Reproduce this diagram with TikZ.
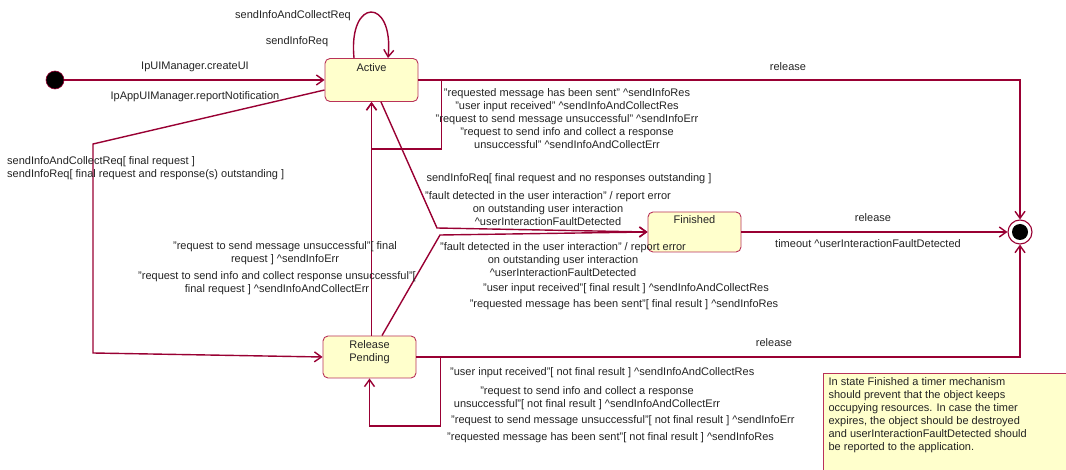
\documentclass[tikz,border=0pt]{standalone}
\usepackage{fontspec}
\setmainfont{Liberation Sans}
\usetikzlibrary{arrows.meta}
\definecolor{lc}{RGB}{153,0,51}
\definecolor{bc}{RGB}{185,50,90}
\definecolor{sf}{RGB}{255,255,204}
\definecolor{tc}{RGB}{35,35,35}
\begin{document}
\begin{tikzpicture}[x=1pt,y=-1pt,
  every node/.style={font=\fontsize{11}{13}\selectfont, text=tc},
  state/.style={draw=bc, fill=sf, rounded corners=5pt, minimum width=93pt, line width=0.9pt, inner sep=2pt},
  tr/.style={draw=lc, line width=1.4pt, -{Straight Barb[length=7pt,width=10pt]}},
  lbl/.style={inner sep=0pt, align=center},
  notebox/.style={draw=bc, fill=sf, line width=1.2pt, anchor=north west, align=left, inner xsep=5pt, inner ysep=4pt, text depth=50pt}
]
\useasboundingbox (0,0) rectangle (1066,470);

% states
\node[circle, fill=black, draw=lc, line width=0.6pt, minimum size=18pt, inner sep=0pt] (init) at (55,80) {};
\node[state, minimum height=43pt, text depth=24pt] (active) at (371.5,80) {Active};
\node[state, minimum height=40pt, text depth=24pt] (finished) at (694.5,232) {Finished};
\node[state, minimum height=42pt, align=center, text depth=11pt] (rp) at (369.5,357) {Release\\Pending};
\node[circle, draw=lc, fill=white, line width=1.1pt, minimum size=24pt, inner sep=0pt] (final) at (1020,232) {};
\fill[black] (final) circle (8pt);

% transitions
\draw[tr] (init) -- (active);
\draw[tr] ([xshift=-17.5pt]active.north) .. controls (348,-3) and (394,-3) .. ([xshift=16.5pt]active.north);
\draw[tr] (active.east) -| (final.north);
\draw[tr] (active.east) -- ++(23,0) -- ++(0,69) -| (active.south);
\draw[tr] (active.south |- rp.north) -- (active.south);
\draw[tr] ([xshift=9.5pt]active.south) -- (437,228) -- (finished.west);
\draw[tr] ([xshift=12.5pt]rp.north) -- (440,235) -- (finished.west);
\draw[tr] (finished.east) -- (final.west);
\draw[tr] ([yshift=-10pt]active.west) -- (93,144) -- (93,353) -- (rp.west);
\draw[tr] (rp.east) -- ++(24,0) -- ++(0,69) -| (rp.south);
\draw[tr] (rp.east) -| (final.south);

% labels
\node[lbl] (l1) at (293,16) {sendInfoAndCollectReq};
\node[lbl] (l2) at (297,42) {sendInfoReq};
\node[lbl] (l3) at (195,67) {IpUIManager.createUI};
\node[lbl] (l4) at (195,97) {IpAppUIManager.reportNotification};
\node[lbl, align=left, anchor=west] (l5) at (7,168) {sendInfoAndCollectReq[ final request ]\\sendInfoReq[ final request and response(s) outstanding ]};
\node[lbl] (l6) at (567,118.5) {"requested message has been sent" \textasciicircum sendInfoRes\\"user input received" \textasciicircum sendInfoAndCollectRes\\"request to send message unsuccessful" \textasciicircum sendInfoErr\\"request to send info and collect a response\\unsuccessful" \textasciicircum sendInfoAndCollectErr};
\node[lbl] (l7) at (569,179) {sendInfoReq[ final request and no responses outstanding ]};
\node[lbl] (l8) at (548,208.5) {"fault detected in the user interaction" / report error\\on outstanding user interaction\\\textasciicircum userInteractionFaultDetected};
\node[lbl] (l9) at (563,259.5) {"fault detected in the user interaction" / report error\\on outstanding user interaction\\\textasciicircum userInteractionFaultDetected};
\node[lbl] (l10) at (626,289) {"user input received"[ final result ] \textasciicircum sendInfoAndCollectRes};
\node[lbl] (l11) at (624,305) {"requested message has been sent"[ final result ] \textasciicircum sendInfoRes};
\node[lbl] (l12) at (285,253) {"request to send message unsuccessful"[ final\\request ] \textasciicircum sendInfoErr};
\node[lbl] (l13) at (277,283) {"request to send info and collect response unsuccessful"[\\final request ] \textasciicircum sendInfoAndCollectErr};
\node[lbl] (l14) at (873,218) {release};
\node[lbl] (l15) at (868,244) {timeout \textasciicircum userInteractionFaultDetected};
\node[lbl] (l16) at (788,67) {release};
\node[lbl] (l17) at (774,343) {release};
\node[lbl, anchor=west] (l18) at (450,373) {"user input received"[ not final result ] \textasciicircum sendInfoAndCollectRes};
\node[lbl] (l19) at (587,398) {"request to send info and collect a response\\unsuccessful"[ not final result ] \textasciicircum sendInfoAndCollectErr};
\node[lbl, anchor=west] (l20) at (451,421) {"request to send message unsuccessful"[ not final result ] \textasciicircum sendInfoErr};
\node[lbl, anchor=west] (l21) at (447,438) {"requested message has been sent"[ not final result ] \textasciicircum sendInfoRes};

% note
\node[notebox] (note) at (823,373) {\makebox[250pt][l]{In state Finished a timer mechanism}\\should prevent that the object keeps\\occupying resources. In case the timer\\expires, the object should be destroyed\\and userInteractionFaultDetected should\\be reported to the application.};
\end{tikzpicture}
\end{document}
